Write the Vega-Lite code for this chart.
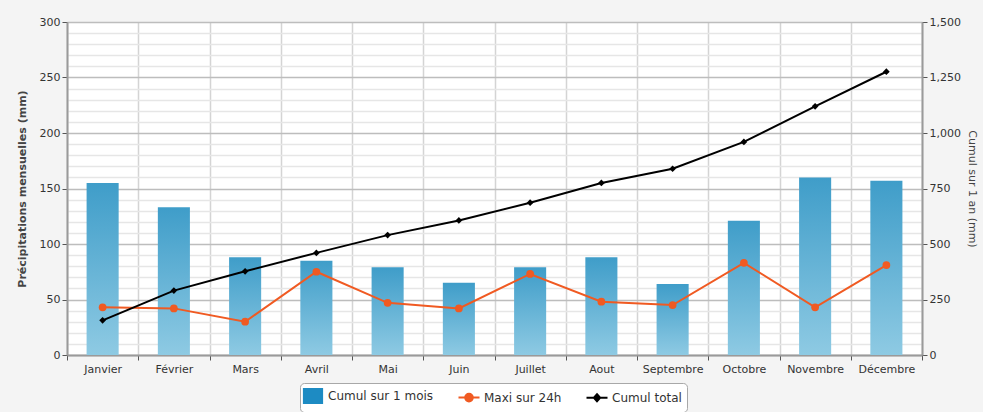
{
  "$schema": "https://vega.github.io/schema/vega-lite/v6.json",
  "width": 855,
  "height": 333,
  "autosize": {"type": "none"},
  "padding": {"left": 67, "top": 22, "right": 61, "bottom": 57},
  "background": "#f4f4f4",
  "view": {"fill": "#ffffff", "stroke": "#c4c4c4", "strokeWidth": 1},
  "config": {
    "font": "DejaVu Sans",
    "axis": {"labelFont": "DejaVu Sans", "labelFontSize": 11, "labelColor": "#333333", "titleFont": "DejaVu Sans", "titleFontSize": 11, "titleColor": "#444444", "domainColor": "#9a9a9a", "domainWidth": 2, "tickColor": "#555555"},
    "legend": {"labelFont": "DejaVu Sans", "labelFontSize": 12, "labelColor": "#333333"}
  },
  "data": {
    "values": [
      {"mois": "Janvier", "cumul": 155, "maxi": 43, "total": 156},
      {"mois": "Février", "cumul": 133, "maxi": 42, "total": 290},
      {"mois": "Mars", "cumul": 88, "maxi": 30, "total": 377},
      {"mois": "Avril", "cumul": 85, "maxi": 75, "total": 460},
      {"mois": "Mai", "cumul": 79, "maxi": 47, "total": 540},
      {"mois": "Juin", "cumul": 65, "maxi": 42, "total": 606},
      {"mois": "Juillet", "cumul": 79, "maxi": 73, "total": 686},
      {"mois": "Aout", "cumul": 88, "maxi": 48, "total": 775},
      {"mois": "Septembre", "cumul": 64, "maxi": 45, "total": 839},
      {"mois": "Octobre", "cumul": 121, "maxi": 83, "total": 960},
      {"mois": "Novembre", "cumul": 160, "maxi": 43, "total": 1120},
      {"mois": "Décembre", "cumul": 157, "maxi": 81, "total": 1276}
    ]
  },
  "encoding": {
    "x": {
      "field": "mois", "type": "nominal", "sort": null,
      "scale": {"type": "band", "paddingInner": 0, "paddingOuter": 0},
      "axis": {"title": null, "labelAngle": 0, "tickBand": "extent", "grid": true, "gridColor": "#d4d4d4", "gridWidth": 1.5, "tickSize": 5, "labelPadding": 3}
    }
  },
  "layer": [
    {
      "layer": [
        {
          "mark": {"type": "bar", "width": {"band": 0.45}, "fill": {"gradient": "linear", "x1": 0, "y1": 0, "x2": 0, "y2": 1, "stops": [{"offset": 0, "color": "#3f9dc9"}, {"offset": 1, "color": "#8ecae3"}]}},
          "encoding": {
            "y": {
              "field": "cumul", "type": "quantitative",
              "title": "Précipitations mensuelles (mm)",
              "scale": {"domain": [0, 300], "nice": false},
              "axis": {
                "titleFontWeight": "bold", "titlePadding": 12,
                "values": [0, 10, 20, 30, 40, 50, 60, 70, 80, 90, 100, 110, 120, 130, 140, 150, 160, 170, 180, 190, 200, 210, 220, 230, 240, 250, 260, 270, 280, 290, 300],
                "labelExpr": "datum.value % 50 === 0 ? datum.label : ''",
                "tickSize": {"condition": {"test": "datum.value % 50 === 0", "value": 5}, "value": 0},
                "grid": true,
                "gridColor": {"condition": {"test": "datum.value % 50 === 0", "value": "#bdbdbd"}, "value": "#e6e6e6"},
                "gridWidth": 1.5
              }
            }
          }
        },
        {
          "mark": {"type": "line", "color": "#f05a22", "strokeWidth": 2},
          "encoding": {
            "y": {
              "field": "maxi", "type": "quantitative",
              "title": "Précipitations mensuelles (mm)",
              "scale": {"domain": [0, 300], "nice": false},
              "axis": {
                "titleFontWeight": "bold", "titlePadding": 12,
                "values": [0, 10, 20, 30, 40, 50, 60, 70, 80, 90, 100, 110, 120, 130, 140, 150, 160, 170, 180, 190, 200, 210, 220, 230, 240, 250, 260, 270, 280, 290, 300],
                "labelExpr": "datum.value % 50 === 0 ? datum.label : ''",
                "tickSize": {"condition": {"test": "datum.value % 50 === 0", "value": 5}, "value": 0},
                "grid": true,
                "gridColor": {"condition": {"test": "datum.value % 50 === 0", "value": "#bdbdbd"}, "value": "#e6e6e6"},
                "gridWidth": 1.5
              }
            }
          }
        },
        {
          "mark": {"type": "point", "filled": true, "opacity": 1, "color": "#f05a22", "size": 60, "shape": "circle"},
          "encoding": {
            "y": {
              "field": "maxi", "type": "quantitative",
              "title": "Précipitations mensuelles (mm)",
              "scale": {"domain": [0, 300], "nice": false},
              "axis": {
                "titleFontWeight": "bold", "titlePadding": 12,
                "values": [0, 10, 20, 30, 40, 50, 60, 70, 80, 90, 100, 110, 120, 130, 140, 150, 160, 170, 180, 190, 200, 210, 220, 230, 240, 250, 260, 270, 280, 290, 300],
                "labelExpr": "datum.value % 50 === 0 ? datum.label : ''",
                "tickSize": {"condition": {"test": "datum.value % 50 === 0", "value": 5}, "value": 0},
                "grid": true,
                "gridColor": {"condition": {"test": "datum.value % 50 === 0", "value": "#bdbdbd"}, "value": "#e6e6e6"},
                "gridWidth": 1.5
              }
            }
          }
        },
        {
          "transform": [{"filter": "false"}],
          "mark": {"type": "point", "filled": true, "opacity": 1},
          "encoding": {
            "y": {
              "field": "maxi", "type": "quantitative",
              "title": "Précipitations mensuelles (mm)",
              "scale": {"domain": [0, 300], "nice": false},
              "axis": {
                "titleFontWeight": "bold", "titlePadding": 12,
                "values": [0, 10, 20, 30, 40, 50, 60, 70, 80, 90, 100, 110, 120, 130, 140, 150, 160, 170, 180, 190, 200, 210, 220, 230, 240, 250, 260, 270, 280, 290, 300],
                "labelExpr": "datum.value % 50 === 0 ? datum.label : ''",
                "tickSize": {"condition": {"test": "datum.value % 50 === 0", "value": 5}, "value": 0},
                "grid": true,
                "gridColor": {"condition": {"test": "datum.value % 50 === 0", "value": "#bdbdbd"}, "value": "#e6e6e6"},
                "gridWidth": 1.5
              }
            },
            "color": {
              "datum": "Maxi sur 24h",
              "scale": {"domain": ["Cumul sur 1 mois", "Maxi sur 24h", "Cumul total"], "range": ["#1d8bc3", "#f05a22", "#000000"]},
              "legend": {
                "title": null, "orient": "none", "legendX": 233, "legendY": 361, "direction": "horizontal",
                "strokeColor": "#a8a8a8", "fillColor": "#ffffff", "cornerRadius": 4, "padding": 5,
                "symbolSize": 196, "symbolStrokeWidth": 2, "columnPadding": 20, "labelOffset": 7
              }
            },
            "stroke": {
              "datum": "Maxi sur 24h",
              "scale": {"domain": ["Cumul sur 1 mois", "Maxi sur 24h", "Cumul total"], "range": ["#1d8bc3", "#f05a22", "#000000"]},
              "legend": null
            },
            "shape": {
              "datum": "Maxi sur 24h",
              "scale": {"domain": ["Cumul sur 1 mois", "Maxi sur 24h", "Cumul total"], "range": ["M-1.3,-1H1.3V1H-1.3Z", "M-1.5,0H1.5M0.55,0A0.55,0.55,0,1,1,-0.55,0A0.55,0.55,0,1,1,0.55,0", "M-1.5,0H1.5M0,-0.5L0.45,0L0,0.5L-0.45,0Z"]},
              "legend": null
            }
          }
        }
      ]
    },
    {
      "layer": [
        {
          "mark": {"type": "line", "color": "#000000", "strokeWidth": 2},
          "encoding": {
            "y": {
              "field": "total", "type": "quantitative",
              "title": "Cumul sur 1 an (mm)",
              "scale": {"domain": [0, 1500], "nice": false},
              "axis": {"orient": "right", "titleAngle": 90, "titleFontWeight": "normal", "titlePadding": 6, "values": [0, 250, 500, 750, 1000, 1250, 1500], "format": ",.0f", "grid": false, "tickSize": 5}
            }
          }
        },
        {
          "mark": {"type": "point", "filled": true, "opacity": 1, "color": "#000000", "size": 45, "shape": "diamond"},
          "encoding": {
            "y": {
              "field": "total", "type": "quantitative",
              "title": "Cumul sur 1 an (mm)",
              "scale": {"domain": [0, 1500], "nice": false},
              "axis": {"orient": "right", "titleAngle": 90, "titleFontWeight": "normal", "titlePadding": 6, "values": [0, 250, 500, 750, 1000, 1250, 1500], "format": ",.0f", "grid": false, "tickSize": 5}
            }
          }
        }
      ]
    }
  ],
  "resolve": {"scale": {"y": "independent"}}
}
